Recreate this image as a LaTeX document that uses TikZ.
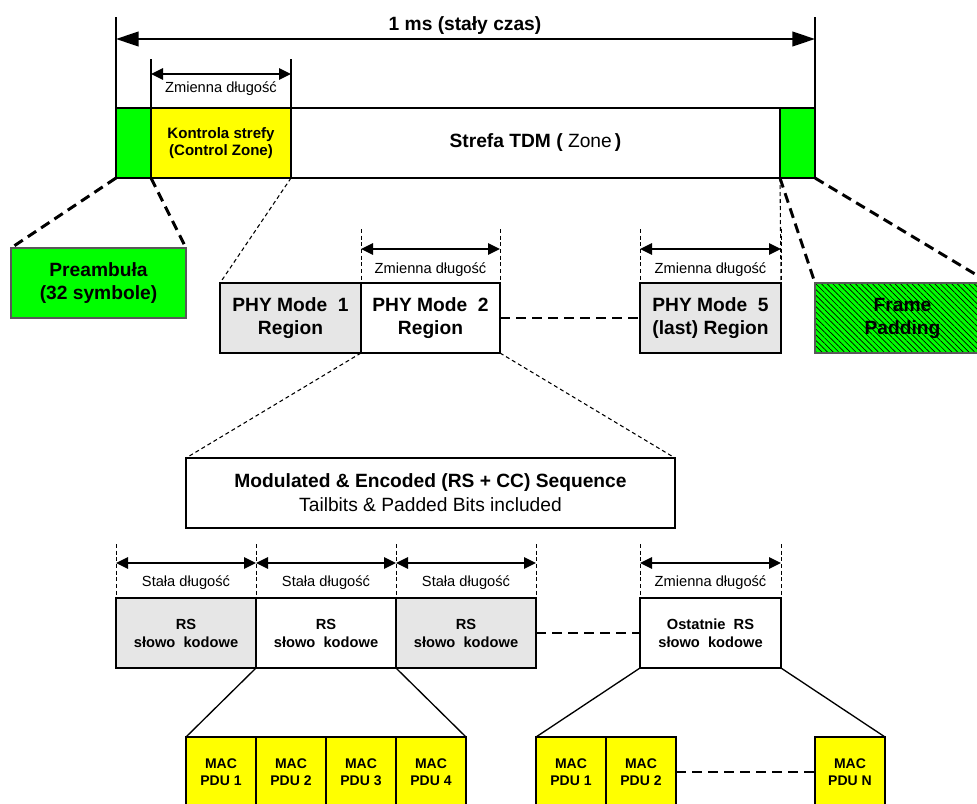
\documentclass[tikz,border=0pt]{standalone}
\usepackage{fontspec}
\setmainfont{Liberation Sans}
\usetikzlibrary{arrows.meta,patterns.meta}
\definecolor{fgreen}{HTML}{00FF00}
\definecolor{fyellow}{HTML}{FFFF00}
\definecolor{fgray}{HTML}{E6E6E6}
\begin{document}
\begin{tikzpicture}[x=0.75pt,y=-0.75pt,
  sz/.style 2 args={minimum width=#1*0.75pt, minimum height=#2*0.75pt},
  base/.style={inner sep=0pt, outer sep=0pt, align=center},
  frame/.style={base, draw, line width=1.5pt},
  thickbox/.style={base, draw, line width=2.2pt},
  bigbold/.style={font=\fontsize{14.4}{17.25}\selectfont\bfseries},
  midbold/.style={font=\fontsize{11.3}{13}\selectfont\bfseries},
  rsfont/.style={font=\fontsize{11}{13.5}\selectfont\bfseries},
  dimlabel/.style={inner sep=0pt, font=\fontsize{11}{13}\selectfont},
  macbox/.style={base, draw, line width=1.1pt, fill=fyellow, sz={70}{70}, font=\fontsize{10.5}{12.75}\selectfont\bfseries},
  greenbox/.style={base, draw=black!65, line width=1pt, fill=fgreen},
  vline/.style={line width=1.1pt},
  dimdash/.style={line width=0.75pt, dash pattern=on 3pt off 2pt},
  bigarrow/.style={{Triangle[length=17pt,width=11pt]}-{Triangle[length=17pt,width=11pt]}, line width=1.5pt},
  dimarrow/.style={{Triangle[length=9pt,width=8.5pt]}-{Triangle[length=9pt,width=8.5pt]}, line width=1.5pt},
  zoomthin/.style={line width=0.8pt, dash pattern=on 3pt off 2.25pt},
  zoomthick/.style={line width=2.2pt, dash pattern=on 7.5pt off 4.5pt},
  gapdash/.style={line width=2pt, dash pattern=on 7.5pt off 4.5pt},
  solidzoom/.style={line width=1pt}]
\useasboundingbox (0,0) rectangle (977,803);
\clip (0,0) rectangle (977,803);
\fill[white] (0,0) rectangle (977,803);

% ---- top frame ----
\node[frame, fill=fgreen, sz={35}{70}] (gl) at (133.5,143) {};
\node[frame, fill=fyellow, midbold, sz={140}{70}] (ctl) at (221,143) {Kontrola strefy\\(Control Zone)};
\node[frame, font=\fontsize{14.4}{17}\selectfont, sz={489}{70}] (zone) at (535.5,143) {\textbf{Strefa TDM (} Zone\,\textbf{)}};
\node[frame, fill=fgreen, sz={35}{70}] (gr) at (797.5,143) {};

\coordinate (t1) at (116,17);
\coordinate (t2) at (815,17);
\draw[vline] (t1) -- (gl.north west);
\draw[vline] (t2) -- (gr.north east);
\coordinate (a1) at (116,39);
\coordinate (a2) at (815,39);
\draw[bigarrow] (a1) -- (a2);
\node[inner sep=0pt, font=\fontsize{14.4}{17}\selectfont\bfseries] (title) at (465,26) {1 ms (stały czas)};

\coordinate (c1) at (151,59);
\coordinate (c2) at (291,59);
\draw[vline] (c1) -- (ctl.north west);
\draw[vline] (c2) -- (ctl.north east);
\coordinate (c1a) at (151,74);
\coordinate (c2a) at (291,74);
\draw[dimarrow] (c1a) -- (c2a);
\node[dimlabel] (lc) at (221,89) {Zmienna długość};

% ---- preamble & padding ----
\node[greenbox, bigbold, sz={175}{70}] (pre) at (98.5,283) {Preambuła\\(32 symbole)};
\draw[zoomthick] (gl.south west) -- (pre.north west);
\draw[zoomthick] (gl.south east) -- (pre.north east);

\node[base, draw=black!65, line width=1pt, bigbold, sz={175}{70},
      preaction={fill=fgreen},
      pattern={Lines[angle=-45,distance=3pt,line width=0.5pt]}, pattern color=black] (pad) at (902.5,318) {};
\node[base, bigbold] (padt) at (pad.center) {Frame\\Padding};
\draw[zoomthick] (gr.south west) -- (pad.north west);
\draw[zoomthick] (gr.south east) -- (pad.north east);

% ---- PHY regions ----
\node[thickbox, fill=fgray, bigbold, sz={141}{70}] (phy1) at (290.5,318) {PHY Mode~~1\\Region};
\node[thickbox, fill=white, bigbold, sz={139}{70}] (phy2) at (430.5,318) {PHY Mode~~2\\Region};
\node[thickbox, fill=fgray, bigbold, sz={141}{70}] (phy5) at (710.5,318) {PHY Mode~~5\\(last) Region};
\draw[gapdash] (phy2.east) -- (phy5.west);
\draw[zoomthin] (ctl.south east) -- (phy1.north west);
\draw[zoomthin] (zone.south east) -- (phy5.north east);

\coordinate (p2a) at (361,229);
\coordinate (p2b) at (500,229);
\draw[dimdash] (p2a) -- (phy2.north west);
\draw[dimdash] (p2b) -- (phy2.north east);
\coordinate (p2c) at (361,249);
\coordinate (p2d) at (500,249);
\draw[dimarrow] (p2c) -- (p2d);
\node[dimlabel] (lp2) at (430.5,270) {Zmienna długość};

\coordinate (p5a) at (640,229);
\coordinate (p5b) at (781,229);
\draw[dimdash] (p5a) -- (phy5.north west);
\draw[dimdash] (p5b) -- (phy5.north east);
\coordinate (p5c) at (640,249);
\coordinate (p5d) at (781,249);
\draw[dimarrow] (p5c) -- (p5d);
\node[dimlabel] (lp5) at (710.5,270) {Zmienna długość};

% ---- sequence ----
\node[frame, font=\fontsize{14.4}{18}\selectfont, sz={489}{70}] (mod) at (430.5,493) {\textbf{Modulated \& Encoded (RS + CC) Sequence}\\Tailbits \& Padded Bits included};
\draw[zoomthin] (phy2.south west) -- (mod.north west);
\draw[zoomthin] (phy2.south east) -- (mod.north east);

% ---- RS codewords ----
\node[thickbox, fill=fgray, rsfont, sz={140}{70}] (rs1) at (186,633) {RS\\słowo~~kodowe};
\node[thickbox, fill=white, rsfont, sz={140}{70}] (rs2) at (326,633) {RS\\słowo~~kodowe};
\node[thickbox, fill=fgray, rsfont, sz={140}{70}] (rs3) at (466,633) {RS\\słowo~~kodowe};
\node[thickbox, fill=white, rsfont, sz={141}{70}] (rsl) at (710.5,633) {Ostatnie~~RS\\słowo~~kodowe};
\draw[gapdash] (rs3.east) -- (rsl.west);

\coordinate (r0) at (116,544);
\coordinate (r1) at (256,544);
\coordinate (r2) at (396,544);
\coordinate (r3) at (536,544);
\coordinate (r4) at (640,544);
\coordinate (r5) at (781,544);
\draw[dimdash] (r0) -- (rs1.north west);
\draw[dimdash] (r1) -- (rs2.north west);
\draw[dimdash] (r2) -- (rs3.north west);
\draw[dimdash] (r3) -- (rs3.north east);
\draw[dimdash] (r4) -- (rsl.north west);
\draw[dimdash] (r5) -- (rsl.north east);
\coordinate (s0) at (116,563);
\coordinate (s1) at (256,563);
\coordinate (s2) at (396,563);
\coordinate (s3) at (536,563);
\coordinate (s4) at (640,563);
\coordinate (s5) at (781,563);
\draw[dimarrow] (s0) -- (s1);
\draw[dimarrow] (s1) -- (s2);
\draw[dimarrow] (s2) -- (s3);
\draw[dimarrow] (s4) -- (s5);
\node[dimlabel] (ls1) at (186,583) {Stała długość};
\node[dimlabel] (ls2) at (326,583) {Stała długość};
\node[dimlabel] (ls3) at (466,583) {Stała długość};
\node[dimlabel] (ls4) at (710.5,583) {Zmienna długość};

% ---- MAC PDUs ----
\node[macbox] (m1) at (221,772) {MAC\\PDU 1};
\node[macbox] (m2) at (291,772) {MAC\\PDU 2};
\node[macbox] (m3) at (361,772) {MAC\\PDU 3};
\node[macbox] (m4) at (431,772) {MAC\\PDU 4};
\node[macbox] (n1) at (571,772) {MAC\\PDU 1};
\node[macbox] (n2) at (641,772) {MAC\\PDU 2};
\node[macbox] (nN) at (850,772) {MAC\\PDU N};
\draw[gapdash] (n2.east) -- (nN.west);
\draw[solidzoom] (rs2.south west) -- (m1.north west);
\draw[solidzoom] (rs2.south east) -- (m4.north east);
\draw[solidzoom] (rsl.south west) -- (n1.north west);
\draw[solidzoom] (rsl.south east) -- (nN.north east);
\end{tikzpicture}
\end{document}
